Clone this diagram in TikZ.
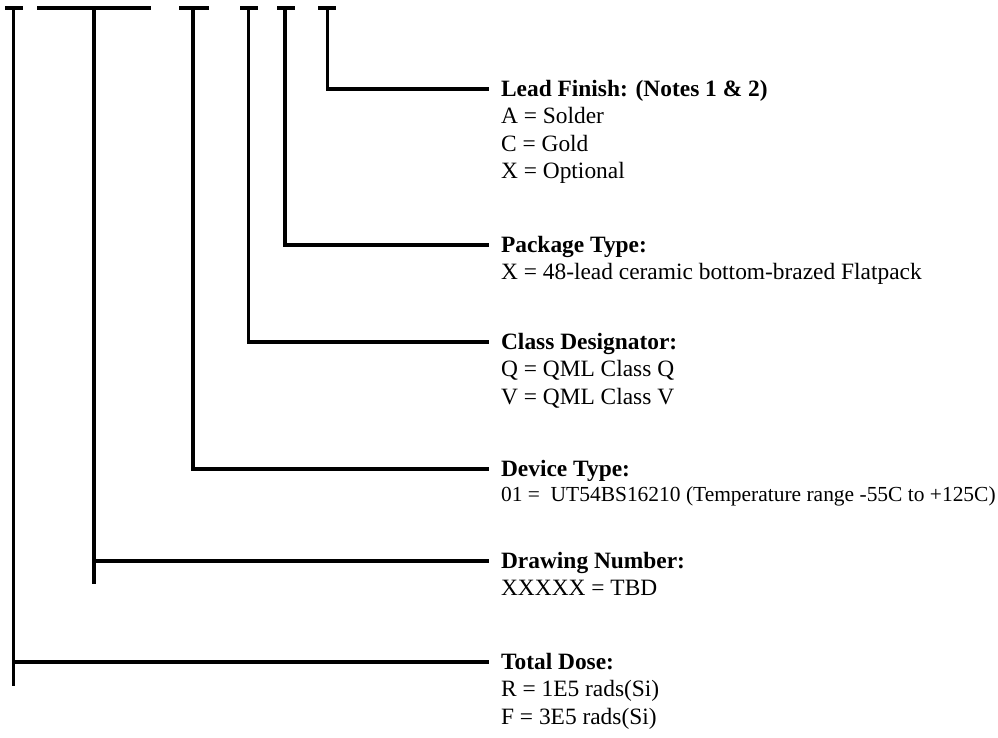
\documentclass[tikz,border=0pt]{standalone}
\usepackage{fontspec}
\setmainfont{Liberation Serif}

\tikzset{
  wire/.style={line width=2pt},
  head/.style={anchor=base west, font=\fontsize{12}{13.9}\selectfont\bfseries,
    text height=8pt, text depth=0pt, inner xsep=6pt, inner ysep=0pt},
  desc/.style={anchor=base west, align=left, font=\fontsize{12}{13.9}\selectfont,
    inner xsep=6pt, inner ysep=0pt},
}

\begin{document}
\begin{tikzpicture}[x=0.5128pt, y=-0.5128pt]

  % Rahmen (998 x 738 px)
  \useasboundingbox (0,0) rectangle (998,738);

  % Kopfpunkte der Stellen
  \coordinate (dose) at (13.5,8);
  \coordinate (drw)  at (94,8);
  \coordinate (dev)  at (193,8);
  \coordinate (cls)  at (248.5,8);
  \coordinate (pkg)  at (285,8);
  \coordinate (fin)  at (327.5,8);

  % Querbalken oben
  \draw[wire] (5,8) -- (22.5,8);
  \draw[wire] (37,8) -- (151,8);
  \draw[wire] (179,8) -- (208.5,8);
  \draw[wire] (240,8) -- (258,8);
  \draw[wire] (277,8) -- (295,8);
  \draw[wire] (318,8) -- (335.5,8);

  % Überschriften
  \node[head] (finH)  at (489,96.8)  {Lead Finish: (Notes 1 \& 2)};
  \node[head] (pkgH)  at (489,252.8) {Package Type:};
  \node[head] (clsH)  at (489,349.8) {Class Designator:};
  \node[head] (devH)  at (489,476.8) {Device Type:};
  \node[head] (drwH)  at (489,568.8) {Drawing Number:};
  \node[head] (doseH) at (489,669.8) {Total Dose:};

  % Erläuterungen (base = letzte Zeile)
  \node[desc] (finV) at ([yshift=-41.7pt]finH.base west)
    {A = Solder\\C = Gold\\X = Optional};
  \node[desc] (pkgV) at ([yshift=-13.9pt]pkgH.base west)
    {X = 48-lead ceramic bottom-brazed Flatpack};
  \node[desc] (clsV) at ([yshift=-27.8pt]clsH.base west)
    {Q = QML Class Q\\V = QML Class V};
  \node[desc, font=\fontsize{11}{13}\selectfont] (devV) at ([yshift=-12.8pt]devH.base west)
    {01 =\ \ UT54BS16210 (Temperature range -55C to +125C)};
  \node[desc] (drwV) at ([yshift=-13.9pt]drwH.base west)
    {XXXXX = TBD};
  \node[desc] (doseV) at ([yshift=-27.8pt]doseH.base west)
    {R = 1E5 rads(Si)\\F = 3E5 rads(Si)};

  % Führungslinien
  \draw[wire] (fin) |- (finH.west);
  \draw[wire] (pkg) |- (pkgH.west);
  \draw[wire] (cls) |- (clsH.west);
  \draw[wire] (dev) |- (devH.west);
  \draw[wire] (drw) -- (94,584);
  \draw[wire] (drw |- drwH.west) -- (drwH.west);
  \draw[wire] (dose) -- (13.5,686);
  \draw[wire] (dose |- doseH.west) -- (doseH.west);

\end{tikzpicture}
\end{document}
